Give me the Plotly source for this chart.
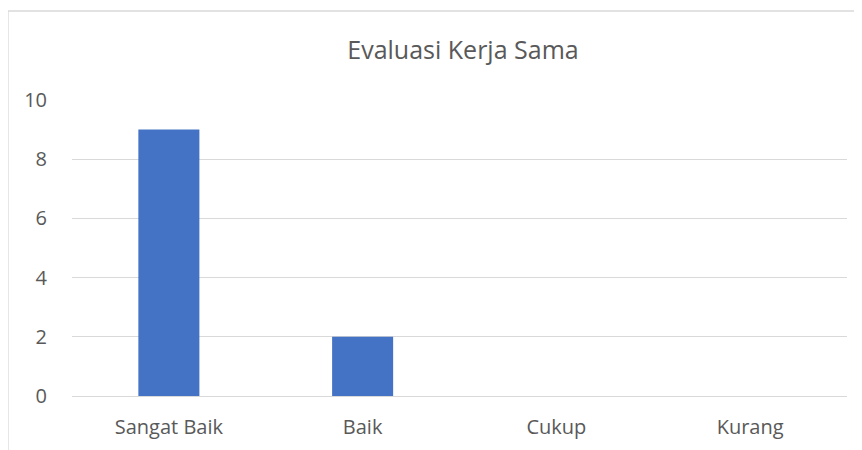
import plotly.graph_objects as go

categories = ["Sangat Baik", "Baik", "Cukup", "Kurang"]
values = [9, 2, 0, 0]
y_ticks = [0, 2, 4, 6, 8, 10]
title_text = "Evaluasi Kerja Sama"

FONT = "'Open Sans', sans-serif"
GREY = "#595959"
GRID = "#d9d9d9"

# the page body adds an 8px offset; figure is sized so the plot lands where the reference has it
OFF = 8
W, H = 862 - OFF, 450 - OFF
L, R, T, B = 72 - OFF, 15, 100 - OFF, 54
pw, ph = W - L - R, H - T - B

fig = go.Figure(go.Bar(x=categories, y=values, marker=dict(color="#4472c4", line=dict(width=0))))

fig.update_layout(
    width=W, height=H,
    margin=dict(l=L, r=R, t=T, b=B, pad=0, autoexpand=False),
    paper_bgcolor="white", plot_bgcolor="white",
    bargap=0.685,
    showlegend=False,
    title=dict(text=title_text, x=(463 - OFF) / W, xanchor="center",
               y=1 - (50 - OFF) / H, yanchor="middle",
               font=dict(family=FONT, size=25, color=GREY)),
    font=dict(family=FONT, color=GREY),
)
fig.update_xaxes(showgrid=False, showline=False, zeroline=False, automargin=False,
                 tickfont=dict(size=20, color=GREY), ticks="", ticklabelstandoff=17)
fig.update_yaxes(range=[0, 10], tickvals=y_ticks, showgrid=True, gridcolor=GRID, gridwidth=1,
                 zeroline=True, zerolinecolor=GRID, zerolinewidth=1, showline=False, automargin=False,
                 tickfont=dict(size=20, color=GREY), ticks="", ticklabelstandoff=24)

# outer chart border
fig.add_shape(type="rect", xref="paper", yref="paper",
              x0=(8 - OFF - L) / pw, x1=(880 - OFF - L) / pw,
              y0=(H - B - 470) / ph, y1=(H - B - (11 - OFF)) / ph,
              line=dict(color=GRID, width=1.3), fillcolor="rgba(0,0,0,0)", layer="below")

fig.write_html("out.html")
